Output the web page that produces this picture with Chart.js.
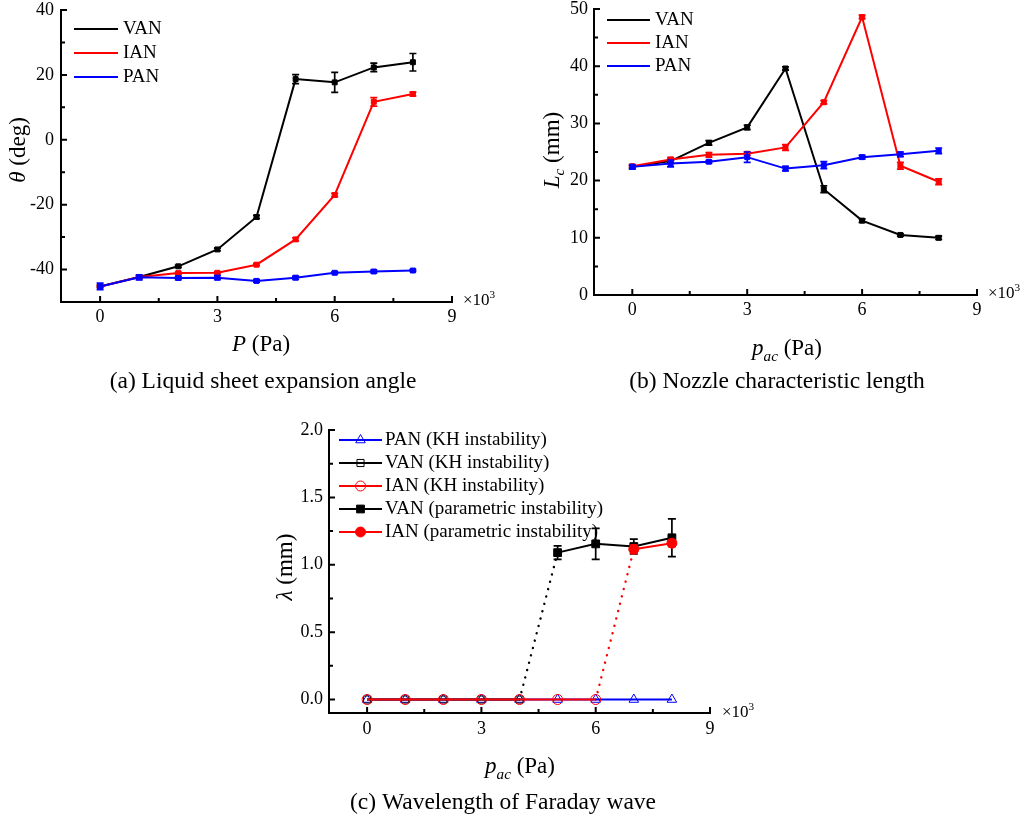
<!DOCTYPE html>
<html>
<head>
<meta charset="utf-8">
<script src="https://cdn.jsdelivr.net/npm/chart.js@4/dist/chart.umd.min.js"></script>
<style>
  html, body { margin: 0; padding: 0; background: #fff; }
  #fig { position: relative; width: 1033px; height: 821px; overflow: hidden; background: #fff; }
  #fig canvas { position: absolute; }
</style>
</head>
<body>
<div id="fig">
  <canvas id="chartA" width="516" height="405" style="left:0;top:0"></canvas>
  <canvas id="chartB" width="517" height="405" style="left:516px;top:0"></canvas>
  <canvas id="chartC" width="600" height="416" style="left:230px;top:405px"></canvas>
</div>
<script>
// ---------------- data ----------------
// acoustic pressure steps (×10³ Pa)
const pressure = [0, 1, 2, 3, 4, 5, 6, 7, 8];

// (a) liquid sheet expansion angle θ (deg) with error bars
const thetaVAN    = [-45.2, -42.3, -39.0, -33.8, -23.8, 18.7, 17.7, 22.3, 23.9];
const thetaVANErr = [0.3, 0.3, 0.3, 0.4, 0.5, 1.4, 3.1, 1.3, 2.7];
const thetaIAN    = [-45.2, -42.3, -41.1, -41.0, -38.5, -30.7, -17.0, 11.7, 14.1];
const thetaIANErr = [0.3, 0.3, 0.3, 0.3, 0.3, 0.5, 0.5, 1.3, 0.6];
const thetaPAN    = [-45.2, -42.4, -42.6, -42.5, -43.5, -42.5, -41.0, -40.6, -40.3];
const thetaPANErr = [1.0, 0.8, 0.5, 0.6, 0.4, 0.5, 0.3, 0.4, 0.3];

// (b) nozzle characteristic length Lc (mm) with error bars
const lcVAN    = [22.4, 23.4, 26.6, 29.3, 39.6, 18.5, 13.0, 10.5, 10.0];
const lcVANErr = [0.2, 0.3, 0.4, 0.4, 0.3, 0.6, 0.3, 0.2, 0.3];
const lcIAN    = [22.5, 23.7, 24.5, 24.7, 25.8, 33.7, 48.6, 22.6, 19.8];
const lcIANErr = [0.2, 0.3, 0.4, 0.3, 0.5, 0.3, 0.3, 0.6, 0.5];
const lcPAN    = [22.4, 23.0, 23.3, 24.1, 22.1, 22.7, 24.1, 24.6, 25.2];
const lcPANErr = [0.4, 0.6, 0.2, 0.9, 0.4, 0.6, 0.3, 0.4, 0.5];

// (c) Faraday wave wavelength λ (mm)
const pacPANkh = [0, 1, 2, 3, 4, 5, 6, 7, 8];
const lamPANkh = [0, 0, 0, 0, 0, 0, 0, 0, 0];
const pacVANkh = [0, 1, 2, 3, 4];
const lamVANkh = [0, 0, 0, 0, 0];
const pacIANkh = [0, 1, 2, 3, 4, 5, 6];
const lamIANkh = [0, 0, 0, 0, 0, 0, 0];
const pacVANpi    = [5, 6, 7, 8];
const lamVANpi    = [1.09, 1.155, 1.135, 1.20];
const lamVANpiErr = [0.05, 0.115, 0.055, 0.14];
const pacIANpi    = [7, 8];
const lamIANpi    = [1.115, 1.16];
const lamIANpiErr = [0.03, 0.025];

// axis ticks
const pressureTicks = [0, 3, 6, 9];
const pressureMinor = [1.5, 4.5, 7.5];
const thetaTicks  = [-40, -20, 0, 20, 40];
const thetaMinor  = [-30, -10, 10, 30];
const lcTicks     = [0, 10, 20, 30, 40, 50];
const lcMinor     = [5, 15, 25, 35, 45];
const lambdaTicks = [0, 0.5, 1.0, 1.5, 2.0];
const lambdaMinor = [0.25, 0.75, 1.25, 1.75];

// ---------------- helpers ----------------
const SERIF = "'Liberation Serif', 'Times New Roman', serif";
Chart.defaults.font.family = SERIF;
Chart.defaults.color = '#000';

const BLACK = '#000000', RED = '#ff0000', BLUE = '#0000ff';

const pts = (xs, ys) => xs.map((x, i) => ({ x, y: ys[i] }));

function series(label, xs, ys, color, extra) {
  return Object.assign({
    label, data: pts(xs, ys),
    borderColor: color, backgroundColor: color, borderWidth: 2,
    pointStyle: 'rect', pointRadius: 3.5, pointBorderWidth: 1,
    pointBorderColor: color, pointBackgroundColor: color,
    tension: 0, fill: false
  }, extra || {});
}

// text made of runs: '' normal, 'i' italic, 'isub' italic subscript, 'sup' superscript
function richText(ctx, segs, x, y, size, align) {
  const parts = segs.map(([t, st]) => {
    const sub = st.includes('sub'), sup = st.includes('sup');
    const fs = (sub || sup) ? size * 0.66 : size;
    const font = (st.includes('i') ? 'italic ' : '') + fs + 'px ' + SERIF;
    ctx.font = font;
    return { t, font, w: ctx.measureText(t).width, dy: sub ? size * 0.24 : (sup ? -size * 0.42 : 0) };
  });
  const total = parts.reduce((s, p) => s + p.w, 0);
  let cx = align === 'left' ? x : x - total / 2;
  ctx.textAlign = 'left';
  ctx.textBaseline = 'alphabetic';
  for (const p of parts) { ctx.font = p.font; ctx.fillText(p.t, cx, y + p.dy); cx += p.w; }
}

// vertical error bars drawn with each dataset
const errorBars = {
  id: 'errorBars',
  afterDatasetDraw(chart, args) {
    const ds = chart.data.datasets[args.index];
    if (!ds.errors) return;
    const ctx = chart.ctx, ys = chart.scales.y;
    const cap = ds.errorCap || 3.5;
    ctx.save();
    ctx.strokeStyle = ds.borderColor;
    ctx.lineWidth = 1.7;
    args.meta.data.forEach((pt, i) => {
      const e = ds.errors[i];
      if (!e) return;
      const v = ds.data[i].y;
      const y1 = ys.getPixelForValue(v + e), y2 = ys.getPixelForValue(v - e);
      ctx.beginPath();
      ctx.moveTo(pt.x, y1); ctx.lineTo(pt.x, y2);
      ctx.moveTo(pt.x - cap, y1); ctx.lineTo(pt.x + cap, y1);
      ctx.moveTo(pt.x - cap, y2); ctx.lineTo(pt.x + cap, y2);
      ctx.stroke();
    });
    ctx.restore();
  }
};

// L-shaped axes with inward ticks, titles, caption and legend
function frame(spec) {
  return {
    id: 'frame',
    afterDraw(chart) {
      const { ctx, chartArea: a } = chart;
      const xs = chart.scales.x, ys = chart.scales.y;
      ctx.save();
      ctx.strokeStyle = '#000';
      ctx.lineWidth = 2;
      ctx.lineCap = 'square';
      ctx.beginPath();
      ctx.moveTo(a.left, a.top); ctx.lineTo(a.left, a.bottom); ctx.lineTo(a.right, a.bottom);
      ctx.stroke();
      ctx.lineCap = 'butt';
      ctx.beginPath();
      spec.xMajor.forEach(v => { const p = xs.getPixelForValue(v); ctx.moveTo(p, a.bottom); ctx.lineTo(p, a.bottom - 6); });
      spec.xMinor.forEach(v => { const p = xs.getPixelForValue(v); ctx.moveTo(p, a.bottom); ctx.lineTo(p, a.bottom - 4); });
      spec.yMajor.forEach(v => { const p = ys.getPixelForValue(v); ctx.moveTo(a.left, p); ctx.lineTo(a.left + 6, p); });
      spec.yMinor.forEach(v => { const p = ys.getPixelForValue(v); ctx.moveTo(a.left, p); ctx.lineTo(a.left + 4, p); });
      ctx.stroke();

      ctx.fillStyle = '#000';
      spec.texts.forEach(t => {
        if (t.rotate) {
          ctx.save();
          ctx.translate(t.x, t.y);
          ctx.rotate(-Math.PI / 2);
          richText(ctx, t.segs, 0, t.size * 0.3, t.size, 'center');
          ctx.restore();
        } else {
          richText(ctx, t.segs, t.x, t.y, t.size, t.align);
        }
      });

      const lg = spec.legend;
      lg.items.forEach(it => {
        const ds = chart.data.datasets[it.index];
        ctx.strokeStyle = ds.borderColor;
        ctx.lineWidth = 2;
        ctx.setLineDash([]);
        ctx.beginPath();
        ctx.moveTo(lg.x1, it.y); ctx.lineTo(lg.x2, it.y);
        ctx.stroke();
        if (lg.markers) {
          ctx.fillStyle = ds.pointBackgroundColor;
          ctx.strokeStyle = ds.pointBorderColor;
          ctx.lineWidth = ds.pointBorderWidth;
          Chart.helpers.drawPoint(ctx, {
            pointStyle: ds.pointStyle, radius: ds.pointRadius,
            borderWidth: ds.pointBorderWidth, rotation: 0
          }, (lg.x1 + lg.x2) / 2, it.y);
        }
        ctx.fillStyle = '#000';
        ctx.font = lg.size + 'px ' + SERIF;
        ctx.textAlign = 'left';
        ctx.textBaseline = 'middle';
        ctx.fillText(ds.label, lg.tx, it.y);
      });
      ctx.restore();
    }
  };
}

function xScale(padding) {
  return {
    type: 'linear', min: -1, max: 9, bounds: 'data',
    grid: { display: false, drawTicks: false }, border: { display: false },
    ticks: { autoSkip: false, maxRotation: 0, padding, font: { size: 18 }, color: '#000',
             callback: v => String(v) },
    afterBuildTicks: s => { s.ticks = pressureTicks.map(v => ({ value: v })); },
    afterFit: s => { s.height = 40; s.paddingLeft = s.paddingRight = s.paddingTop = s.paddingBottom = 0; }
  };
}

function yScale(min, max, ticks, width, padding, fmt) {
  return {
    type: 'linear', min, max, bounds: 'data',
    grid: { display: false, drawTicks: false }, border: { display: false },
    ticks: { autoSkip: false, padding, font: { size: 18 }, color: '#000', callback: fmt },
    afterBuildTicks: s => { s.ticks = ticks.map(v => ({ value: v })); },
    afterFit: s => { s.width = width; s.paddingLeft = s.paddingRight = s.paddingTop = s.paddingBottom = 0; }
  };
}

function baseOptions(padding, scales) {
  return {
    responsive: false, animation: false, devicePixelRatio: 1, events: [],
    layout: { padding, autoPadding: false },
    plugins: { legend: { display: false }, tooltip: { enabled: false } },
    scales
  };
}

// ---------------- (a) expansion angle ----------------
new Chart(document.getElementById('chartA'), {
  type: 'line',
  data: {
    datasets: [
      series('VAN', pressure, thetaVAN, BLACK, { errors: thetaVANErr, order: 3 }),
      series('IAN', pressure, thetaIAN, RED,   { errors: thetaIANErr, order: 2 }),
      series('PAN', pressure, thetaPAN, BLUE,  { errors: thetaPANErr, order: 1 })
    ]
  },
  options: baseOptions({ left: 0, top: 10, right: 64, bottom: 63 }, {
    x: xScale(4),
    y: yScale(-50, 40, thetaTicks, 61, 7, v => String(v))
  }),
  plugins: [errorBars, frame({
    xMajor: pressureTicks, xMinor: pressureMinor, yMajor: thetaTicks, yMinor: thetaMinor,
    texts: [
      { segs: [['θ', 'i'], [' (deg)', '']], x: 18, y: 150, size: 23, rotate: true },
      { segs: [['P', 'i'], [' (Pa)', '']], x: 261, y: 351, size: 23 },
      { segs: [['×10', ''], ['3', 'sup']], x: 463, y: 305, size: 17, align: 'left' },
      { segs: [['(a) Liquid sheet expansion angle', '']], x: 263, y: 388, size: 23.5 }
    ],
    legend: { x1: 74, x2: 118, tx: 123, size: 19, markers: false,
              items: [{ index: 0, y: 29 }, { index: 1, y: 53 }, { index: 2, y: 77 }] }
  })]
});

// ---------------- (b) nozzle characteristic length ----------------
new Chart(document.getElementById('chartB'), {
  type: 'line',
  data: {
    datasets: [
      series('VAN', pressure, lcVAN, BLACK, { errors: lcVANErr, order: 3 }),
      series('IAN', pressure, lcIAN, RED,   { errors: lcIANErr, order: 2 }),
      series('PAN', pressure, lcPAN, BLUE,  { errors: lcPANErr, order: 1 })
    ]
  },
  options: baseOptions({ left: 0, top: 9, right: 56, bottom: 70 }, {
    x: xScale(4),
    y: yScale(0, 50, lcTicks, 78, 6, v => String(v))
  }),
  plugins: [errorBars, frame({
    xMajor: pressureTicks, xMinor: pressureMinor, yMajor: lcTicks, yMinor: lcMinor,
    texts: [
      { segs: [['L', 'i'], ['c', 'isub'], [' (mm)', '']], x: 36, y: 150, size: 23, rotate: true },
      { segs: [['p', 'i'], ['ac', 'isub'], [' (Pa)', '']], x: 271, y: 355, size: 23 },
      { segs: [['×10', ''], ['3', 'sup']], x: 472, y: 298, size: 17, align: 'left' },
      { segs: [['(b) Nozzle characteristic length', '']], x: 261, y: 388, size: 23.5 }
    ],
    legend: { x1: 91, x2: 134, tx: 139, size: 19, markers: false,
              items: [{ index: 0, y: 20 }, { index: 1, y: 43 }, { index: 2, y: 66 }] }
  })]
});

// ---------------- (c) Faraday wave wavelength ----------------
const open = { pointBackgroundColor: 'rgba(0,0,0,0)', pointBorderWidth: 1 };
const dotted = { pointRadius: 0, borderWidth: 2.4, borderDash: [0.1, 7.5], borderCapStyle: 'round' };
new Chart(document.getElementById('chartC'), {
  type: 'line',
  data: {
    datasets: [
      series('PAN (KH instability)', pacPANkh, lamPANkh, BLUE,
             Object.assign({ pointStyle: 'triangle', pointRadius: 5.5, order: 5 }, open)),
      series('VAN (KH instability)', pacVANkh, lamVANkh, BLACK,
             Object.assign({ pointStyle: 'rect', pointRadius: 5, order: 4 }, open)),
      series('IAN (KH instability)', pacIANkh, lamIANkh, RED,
             Object.assign({ pointStyle: 'circle', pointRadius: 5, order: 3 }, open)),
      series('VAN (parametric instability)', pacVANpi, lamVANpi, BLACK,
             { pointStyle: 'rect', pointRadius: 5.5, errors: lamVANpiErr, errorCap: 4, order: 2 }),
      series('IAN (parametric instability)', pacIANpi, lamIANpi, RED,
             { pointStyle: 'circle', pointRadius: 5, errors: lamIANpiErr, errorCap: 4, order: 1 }),
      // dotted transitions from the KH branch to the parametric branch
      series('', [pacVANkh[pacVANkh.length - 1], pacVANpi[0]], [lamVANkh[lamVANkh.length - 1], lamVANpi[0]], BLACK,
             Object.assign({ order: 7 }, dotted)),
      series('', [pacIANkh[pacIANkh.length - 1], pacIANpi[0]], [lamIANkh[lamIANkh.length - 1], lamIANpi[0]], RED,
             Object.assign({ order: 6 }, dotted))
    ]
  },
  options: baseOptions({ left: 0, top: 25, right: 120, bottom: 68 }, {
    x: xScale(5),
    y: yScale(-0.1, 2.0, lambdaTicks, 99, 6, v => v.toFixed(1))
  }),
  plugins: [errorBars, frame({
    xMajor: pressureTicks, xMinor: pressureMinor, yMajor: lambdaTicks, yMinor: lambdaMinor,
    texts: [
      { segs: [['λ', 'i'], [' (mm)', '']], x: 55, y: 162, size: 23, rotate: true },
      { segs: [['p', 'i'], ['ac', 'isub'], [' (Pa)', '']], x: 290, y: 368, size: 23 },
      { segs: [['×10', ''], ['3', 'sup']], x: 492, y: 312, size: 17, align: 'left' },
      { segs: [['(c) Wavelength of Faraday wave', '']], x: 273, y: 404, size: 23.5 }
    ],
    legend: { x1: 109, x2: 152, tx: 155, size: 19, markers: true,
              items: [{ index: 0, y: 35 }, { index: 1, y: 58 }, { index: 2, y: 81 },
                      { index: 3, y: 104 }, { index: 4, y: 127 }] }
  })]
});
</script>
</body>
</html>
